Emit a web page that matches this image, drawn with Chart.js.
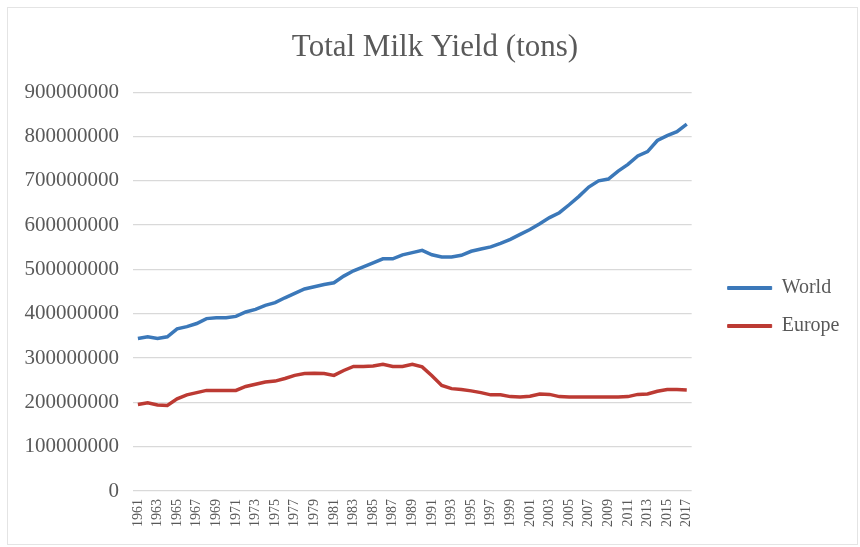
<!DOCTYPE html>
<html>
<head>
<meta charset="utf-8">
<script src="https://cdn.jsdelivr.net/npm/chart.js@4"></script>
<style>
  html, body { margin: 0; padding: 0; background: #fff; }
  #wrap { position: relative; width: 860px; height: 547px; }
  #frame { position: absolute; left: 7px; top: 7px; width: 851px; height: 538px;
           border: 1px solid #e4e4e4; box-sizing: border-box; }
  canvas { position: absolute; left: 0; top: 0; }
</style>
</head>
<body>
<div id="wrap">
  <div id="frame"></div>
  <canvas id="milk-chart" width="860" height="547"></canvas>
</div>
<script>
// Producción total de leche, 1961-2017 (toneladas).
const years = [];
for (let y = 1961; y <= 2017; y++) years.push(String(y));

// valores en millones de toneladas
const worldMt = [
    344, 348, 344, 348, 366, 371, 378, 389, 391, 391,
    394, 404, 410, 419, 425, 436, 446, 456, 461, 466,
    470, 485, 497, 506, 515, 524, 524, 533, 538, 543,
    533, 528, 528, 532, 541, 546, 551, 559, 568, 579,
    590, 603, 617, 628, 646, 665, 686, 700, 704, 722,
    737, 756, 766, 791, 802, 811, 828,
];
const europeMt = [
    195, 199, 194, 193, 208, 217, 222, 227, 227, 227,
    227, 236, 241, 246, 248, 254, 261, 265, 266, 265,
    261, 272, 281, 281, 282, 286, 281, 281, 286, 280,
    260, 238, 231, 229, 226, 222, 217, 217, 213, 212,
    214, 219, 218, 213, 212, 212, 212, 212, 212, 212,
    213, 218, 219, 225, 229, 229, 228,
];
const yTicks = [0, 100000000, 200000000, 300000000, 400000000,
    500000000, 600000000, 700000000, 800000000, 900000000];

const BLUE = "#3b78b9";
const RED = "#bc3a33";
const TEXT = "#595959";
const GRID = "#d9d9d9";
const SERIF = "'Liberation Serif', 'DejaVu Serif', serif";

new Chart(document.getElementById("milk-chart"), {
    type: "line",
    data: {
        labels: years,
        datasets: [
            {
                label: "World",
                data: worldMt.map((v) => v * 1e6),
                borderColor: BLUE,
                backgroundColor: BLUE,
                borderWidth: 3.5,
                pointRadius: 0,
                tension: 0,
            },
            {
                label: "Europe",
                data: europeMt.map((v) => v * 1e6),
                borderColor: RED,
                backgroundColor: RED,
                borderWidth: 3.5,
                pointRadius: 0,
                tension: 0,
            },
        ],
    },
    options: {
        responsive: false,
        animation: false,
        layout: { padding: { left: 23, right: 13, top: 0, bottom: 0 } },
        plugins: {
            title: {
                display: true,
                text: "Total Milk Yield (tons)",
                color: TEXT,
                font: { family: SERIF, size: 31, weight: "normal" },
                padding: { top: 29, bottom: 26 },
            },
            legend: {
                position: "right",
                align: "start",
                // título vacío: baja las entradas hasta la mitad del área
                title: {
                    display: true,
                    text: " ",
                    font: { size: 10 },
                    padding: { top: 248, bottom: 0 },
                },
                labels: {
                    color: TEXT,
                    font: { family: SERIF, size: 20 },
                    boxWidth: 44,
                    boxHeight: 3,
                    padding: 18,
                    generateLabels: (chart) =>
                        Chart.defaults.plugins.legend.labels
                            .generateLabels(chart)
                            .map((l) => ({ ...l, lineWidth: 1 })),
                },
            },
            tooltip: { enabled: false },
        },
        scales: {
            x: {
                offset: true,
                grid: { display: false, drawTicks: false },
                border: { display: false },
                ticks: {
                    autoSkip: false,
                    minRotation: 90,
                    maxRotation: 90,
                    padding: 8,
                    color: TEXT,
                    font: { family: SERIF, size: 14 },
                    callback: (v, i) => (i % 2 === 0 ? years[i] : ""),
                },
                afterFit: (scale) => { scale.height = 56; },
            },
            y: {
                min: 0,
                max: 900000000,
                afterBuildTicks: (scale) => {
                    scale.ticks = yTicks.map((v) => ({ value: v }));
                },
                grid: { color: GRID, lineWidth: 1.3, drawTicks: false },
                border: { display: false },
                ticks: {
                    padding: 14,
                    color: TEXT,
                    font: { family: SERIF, size: 21 },
                    callback: (v) => String(v),
                },
                afterFit: (scale) => { scale.width = 110; },
            },
            // eje vacío: solo deja hueco entre el área y la leyenda
            gap: {
                type: "linear",
                position: "right",
                display: true,
                grid: { display: false },
                border: { display: false },
                ticks: { display: false },
                afterFit: (scale) => { scale.width = 18; },
            },
        },
    },
});
</script>
</body>
</html>
